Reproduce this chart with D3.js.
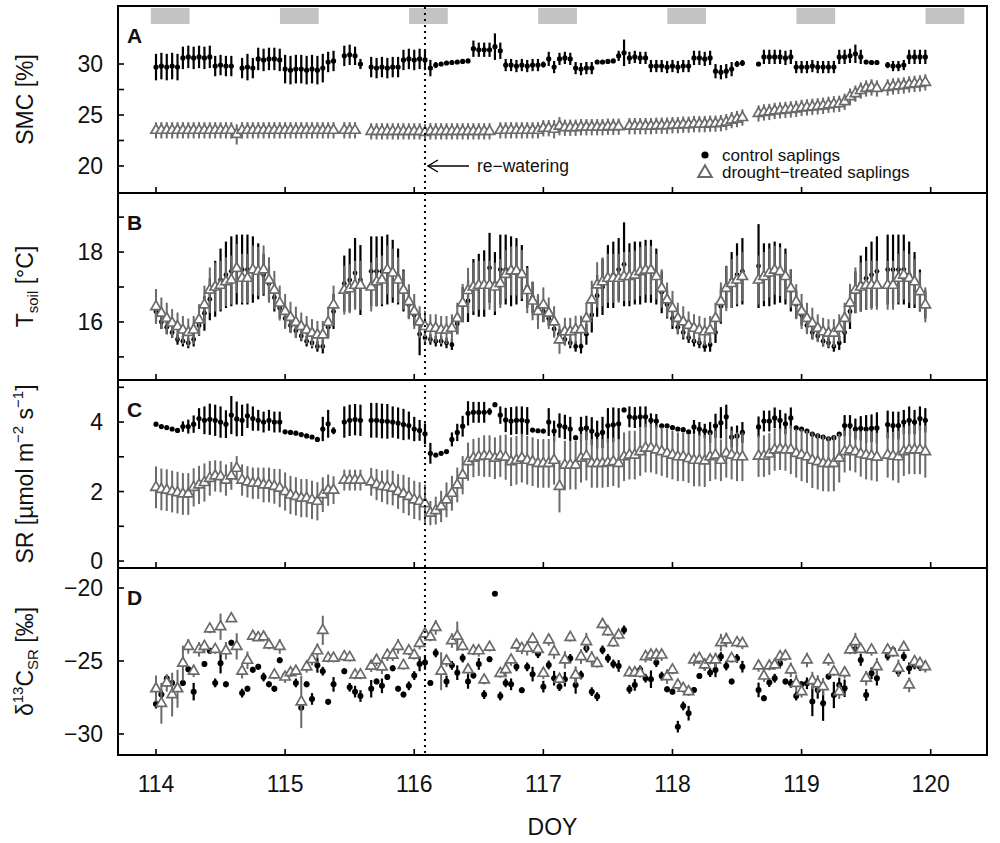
<!DOCTYPE html>
<html><head><meta charset="utf-8">
<script src="https://cdn.jsdelivr.net/npm/d3@7"></script>
<style>
body{margin:0;background:#fff}
text{font-family:"Liberation Sans",Arial,Helvetica,sans-serif;fill:#111}
</style></head>
<body><svg id="chart" width="1000" height="843"></svg>
<script>
// ---------------- DATA (hourly means, DOY 114.00 ... 119.96) ----------------
const startDOY = 114;
const hoursPerDay = 24;
const dayTicks = [114,115,116,117,118,119,120];
const nightDays = [114,115,116,117,118,119,120];
const nightSpan = [-0.04, 0.26];          // night period relative to midnight (days)
const rewaterDOY = 116.083;

// Panel A: soil moisture content SMC [%]
const smcCtrl = [29.7,29.8,29.7,29.8,29.7,30.6,30.7,30.6,30.7,30.6,30.7,29.8,29.9,29.8,29.8,null,29.6,29.7,29.6,30.5,30.4,30.5,30.5,30.4,
 29.5,29.4,29.5,29.5,29.4,29.5,29.4,29.6,30.2,30.3,null,30.8,30.9,30.8,30.0,null,29.7,29.6,29.7,29.6,29.7,29.7,30.4,30.5,
 30.4,30.5,30.4,29.6,29.9,30.0,30.1,30.15,30.2,30.25,30.3,31.5,31.4,31.4,31.4,31.7,31.3,29.9,29.9,29.8,29.9,29.8,29.9,29.9,
 29.95,30.5,29.7,30.5,30.6,30.5,29.6,29.5,29.6,29.6,30.2,30.2,30.25,30.3,30.8,31.1,30.6,30.7,30.6,30.6,29.8,29.8,29.8,29.7,
 29.8,29.7,29.8,29.8,30.6,30.6,30.5,30.6,29.3,29.2,29.3,29.5,30.0,30.1,null,null,30.0,30.7,30.7,30.7,30.7,30.6,30.7,29.7,
 29.7,29.7,29.8,29.7,29.7,29.7,29.7,30.7,30.7,30.8,31.0,30.7,30.2,30.15,30.15,null,29.9,29.8,29.8,29.9,30.7,30.7,30.7,30.7];
const smcCtrlErr = [1.3,1.3,1.3,1.3,1.3,1.1,1.1,1.1,1.1,1.1,1.1,1.0,1.0,1.0,1.0,null,1.0,1.3,1.0,1.1,1.1,1.1,1.1,1.1,
 1.4,1.4,1.4,1.4,1.4,1.4,1.4,1.4,1.0,1.0,null,1.0,1.0,0.9,0.5,null,1.0,1.0,1.0,1.0,1.0,1.0,1.0,1.0,
 1.0,1.0,1.0,0.8,0.3,0.2,0.2,0.2,0.2,0.2,0.2,0.8,0.7,0.7,0.7,1.3,0.8,0.6,0.6,0.6,0.6,0.6,0.6,0.6,
 0.3,0.7,0.6,0.6,0.6,0.6,0.6,0.6,0.6,0.6,0.2,0.2,0.2,0.2,0.5,1.3,0.6,0.6,0.6,0.6,0.6,0.6,0.6,0.6,
 0.6,0.6,0.6,0.6,0.7,0.7,0.7,0.7,0.7,0.7,0.7,0.7,0.3,0.3,null,null,0.2,0.7,0.7,0.7,0.7,0.7,0.7,0.6,
 0.6,0.6,0.6,0.6,0.6,0.6,0.6,0.7,0.7,0.7,0.9,0.7,0.2,0.2,0.2,null,0.3,0.5,0.5,0.5,0.7,0.7,0.7,0.7];
const smcDrt = [23.5,23.5,23.5,23.5,23.5,23.5,23.5,23.5,23.5,23.5,23.5,23.5,23.5,23.5,23.5,23.1,23.5,23.5,23.5,23.5,23.5,23.5,23.5,23.5,
 23.5,23.5,23.5,23.5,23.5,23.5,23.5,23.5,23.5,23.5,null,23.5,23.5,23.5,null,null,23.4,23.4,23.4,23.4,23.4,23.4,23.4,23.4,
 23.4,23.4,23.3,23.4,23.4,23.4,23.4,23.4,23.4,23.4,23.4,23.4,23.4,23.4,23.4,null,23.5,23.5,23.5,23.5,23.5,23.5,23.5,23.5,
 23.7,23.7,23.6,23.9,23.75,23.75,23.75,23.8,23.8,23.8,23.8,23.8,23.85,23.85,23.85,null,23.9,23.9,23.9,23.9,23.9,23.95,23.95,23.95,
 24.0,24.0,24.05,24.05,24.1,24.1,24.1,24.15,24.15,24.2,24.3,24.5,24.6,24.75,null,null,25.15,25.25,25.3,25.4,25.45,25.5,25.55,25.6,
 25.7,25.75,25.8,25.85,25.9,26.0,26.05,26.1,26.3,26.8,27.1,27.4,27.6,27.7,27.6,null,27.7,27.8,27.85,27.9,28.0,28.05,28.1,28.2];
const smcDrtErr = [0.8,0.8,0.8,0.8,0.8,0.8,0.8,0.8,0.8,0.8,0.8,0.8,0.8,0.8,0.8,1.0,0.8,0.8,0.8,0.8,0.8,0.8,0.8,0.8,
 0.8,0.8,0.8,0.8,0.8,0.8,0.8,0.8,0.8,0.8,null,0.8,0.8,0.8,null,null,0.8,0.8,0.8,0.8,0.8,0.8,0.8,0.8,
 0.8,0.8,0.8,0.8,0.8,0.8,0.8,0.8,0.8,0.8,0.8,0.8,0.8,0.8,0.8,null,0.8,0.8,0.8,0.8,0.8,0.8,0.8,0.8,
 0.8,0.8,0.9,0.9,0.8,0.8,0.8,0.8,0.8,0.8,0.8,0.8,0.8,0.8,0.8,null,0.8,0.8,0.8,0.8,0.8,0.8,0.8,0.8,
 0.8,0.8,0.8,0.8,0.8,0.8,0.8,0.8,0.8,0.8,0.8,0.8,0.8,0.8,null,null,0.8,0.8,0.8,0.8,0.8,0.8,0.8,0.8,
 0.8,0.8,0.8,0.8,0.8,0.8,0.8,0.8,0.8,0.8,0.8,0.8,0.8,0.8,0.8,null,0.8,0.8,0.8,0.8,0.8,0.8,0.8,0.8];

// Panel B: soil temperature Tsoil [°C]
const tsCtrl = [16.3,16.0,15.85,15.7,15.5,15.45,15.4,15.5,15.9,16.25,16.65,16.95,17.2,17.35,17.45,17.5,17.5,17.5,17.5,17.45,17.35,17.1,16.7,16.4,
 16.1,15.9,15.75,15.6,15.45,15.4,15.3,15.3,15.85,16.3,null,17.1,17.2,17.4,17.2,null,17.45,17.45,17.45,17.5,17.45,17.3,16.9,16.5,
 16.2,15.65,15.55,15.5,15.45,15.45,15.4,15.35,15.95,16.5,16.6,17.0,17.05,17.1,17.55,17.1,17.5,17.5,17.45,17.45,17.4,17.0,16.7,16.4,
 16.3,16.1,15.8,15.65,15.5,15.4,15.3,15.3,15.65,16.2,16.75,17.0,17.3,17.35,17.5,17.65,17.35,17.4,17.4,17.45,17.45,17.3,16.85,16.5,
 16.1,15.85,15.7,15.55,15.45,15.4,15.3,15.35,15.7,16.45,17.0,17.2,17.35,17.45,null,null,17.6,17.35,17.35,17.4,17.4,17.3,16.9,16.5,
 16.2,15.9,15.7,15.6,15.45,15.4,15.3,15.4,15.7,16.3,16.85,17.1,17.25,17.35,17.45,null,17.5,17.5,17.5,17.5,17.35,17.2,16.9,16.5];
const tsCtrlErr = [0.3,0.2,0.2,0.15,0.15,0.15,0.15,0.2,0.3,0.5,0.6,0.8,0.9,0.95,1.0,1.0,1.0,1.0,0.95,0.8,0.6,0.5,0.4,0.3,
 0.25,0.2,0.2,0.15,0.15,0.15,0.15,0.2,0.3,0.5,null,0.8,0.9,1.0,1.0,null,1.0,1.0,1.0,1.0,0.9,0.8,0.6,0.4,
 0.3,0.6,0.2,0.15,0.15,0.15,0.15,0.15,0.3,0.5,0.6,0.8,0.9,0.95,1.0,0.9,1.0,1.0,1.0,0.95,0.8,0.6,0.45,0.35,
 0.3,0.2,0.2,0.15,0.15,0.15,0.15,0.2,0.3,0.5,0.6,0.8,0.9,0.95,0.9,1.2,0.9,0.9,0.9,0.9,0.9,0.8,0.6,0.4,
 0.3,0.2,0.2,0.15,0.15,0.15,0.15,0.2,0.3,0.5,0.6,0.8,0.9,0.95,null,null,1.2,0.9,0.9,0.9,0.85,0.8,0.6,0.4,
 0.3,0.2,0.2,0.15,0.15,0.15,0.15,0.2,0.3,0.5,0.6,0.8,0.9,0.95,1.0,null,1.0,1.0,1.0,1.0,0.95,0.8,0.6,0.4];
const tsDrt = [16.44,16.25,16.1,15.97,15.87,15.77,15.7,15.77,16.06,16.49,16.91,17.0,17.05,17.15,17.2,17.53,17.25,17.25,17.49,17.45,17.49,17.2,16.91,16.54,
 16.3,16.13,15.99,15.87,15.77,15.68,15.63,15.63,15.99,16.49,null,16.91,16.95,17.05,17.05,null,17.0,17.15,17.2,17.49,17.4,17.2,16.91,16.58,
 16.3,16.0,15.87,15.82,15.82,15.77,15.77,15.82,16.1,16.54,16.9,17.0,17.05,17.05,17.05,17.0,17.1,17.36,17.46,17.46,17.36,16.9,16.6,16.3,
 16.49,16.25,16.0,15.49,15.72,15.72,15.78,15.78,16.1,16.63,17.06,17.15,17.25,17.25,17.25,17.3,17.3,17.34,17.44,17.48,17.48,17.3,16.96,16.63,
 16.39,16.1,16.0,15.9,15.82,15.77,15.72,15.77,16.1,16.58,16.96,17.1,17.2,17.3,null,null,17.2,17.3,17.4,17.48,17.44,17.3,16.96,16.58,
 16.3,16.1,15.96,15.82,15.72,15.68,15.68,15.82,16.1,16.54,16.91,17.0,17.05,17.05,17.05,null,17.05,17.05,17.25,17.34,17.25,17.15,16.87,16.49];
const tsDrtErr = [0.5,0.45,0.45,0.4,0.4,0.4,0.4,0.4,0.45,0.55,0.65,0.7,0.7,0.7,0.7,0.7,0.7,0.7,0.7,0.7,0.7,0.65,0.55,0.5,
 0.5,0.45,0.45,0.4,0.4,0.4,0.4,0.4,0.45,0.55,null,0.7,0.7,0.7,0.7,null,0.7,0.7,0.7,0.7,0.7,0.65,0.55,0.5,
 0.5,0.45,0.45,0.4,0.4,0.4,0.4,0.4,0.45,0.55,0.65,0.7,0.7,0.7,0.7,0.7,0.7,0.7,0.7,0.7,0.7,0.65,0.55,0.5,
 0.5,0.45,0.45,0.4,0.4,0.4,0.4,0.4,0.45,0.55,0.65,0.7,0.7,0.7,0.7,0.7,0.7,0.7,0.7,0.7,0.7,0.65,0.55,0.5,
 0.5,0.45,0.45,0.4,0.4,0.4,0.4,0.4,0.45,0.55,0.65,0.7,0.7,0.7,null,null,0.7,0.7,0.7,0.7,0.7,0.65,0.55,0.5,
 0.5,0.45,0.45,0.4,0.4,0.4,0.4,0.4,0.45,0.55,0.65,0.7,0.7,0.7,0.7,null,0.7,0.7,0.7,0.7,0.7,0.65,0.55,0.5];

// Panel C: soil respiration SR [µmol m-2 s-1]
const srCtrl = [3.94,3.87,3.84,3.8,3.76,3.87,3.87,3.94,4.1,4.05,4.08,4.05,4.0,3.94,4.2,4.09,4.05,4.18,4.1,4.05,4.0,4.05,4.0,4.0,
 3.72,3.7,3.68,3.64,3.6,3.57,3.5,3.8,3.95,3.75,null,4.0,4.05,4.07,4.05,null,4.05,4.05,4.03,4.02,4.0,3.97,3.93,3.9,
 3.8,3.76,3.66,3.1,3.05,3.1,3.15,3.5,3.7,3.88,4.25,4.28,4.28,4.28,4.3,4.5,4.2,4.06,4.03,4.05,4.05,4.03,3.77,3.75,
 3.74,4.0,3.74,3.9,3.86,3.8,3.55,3.8,3.83,3.74,3.64,3.7,3.9,3.92,3.95,4.35,4.15,4.13,4.15,4.15,4.05,4.03,3.89,3.89,
 3.84,3.8,3.78,3.72,3.86,3.8,3.75,3.7,3.89,3.98,4.15,3.57,3.6,3.7,null,null,3.86,4.03,4.03,4.12,4.05,3.95,4.12,3.83,
 3.8,3.74,3.65,3.6,3.57,3.52,3.55,3.65,3.9,3.9,3.8,3.82,3.8,3.82,3.83,null,3.93,3.9,3.9,4.0,4.05,4.0,4.1,4.05];
const srCtrlErr = [0.04,0.04,0.04,0.04,0.04,0.15,0.2,0.25,0.3,0.4,0.45,0.45,0.45,0.4,0.55,0.5,0.45,0.35,0.35,0.3,0.3,0.3,0.3,0.3,
 0.04,0.04,0.04,0.04,0.04,0.04,0.06,0.35,0.4,0.1,null,0.45,0.45,0.45,0.45,null,0.5,0.5,0.5,0.5,0.45,0.45,0.45,0.4,
 0.35,0.3,0.3,0.3,0.05,0.05,0.05,0.2,0.25,0.3,0.35,0.3,0.3,0.3,0.1,0.05,0.25,0.35,0.4,0.4,0.4,0.4,0.05,0.05,
 0.05,0.4,0.3,0.35,0.35,0.35,0.05,0.35,0.35,0.4,0.4,0.45,0.5,0.5,0.45,0.05,0.3,0.3,0.3,0.3,0.2,0.2,0.05,0.05,
 0.05,0.05,0.05,0.05,0.2,0.2,0.2,0.3,0.35,0.45,0.35,0.3,0.3,0.3,null,null,0.3,0.3,0.3,0.3,0.3,0.3,0.3,0.05,
 0.05,0.05,0.05,0.05,0.05,0.05,0.05,0.05,0.3,0.3,0.3,0.35,0.4,0.4,0.45,null,0.4,0.4,0.4,0.35,0.4,0.35,0.35,0.35];
const srDrt = [2.12,2.06,2.04,2.0,1.97,1.93,1.93,2.12,2.19,2.26,2.38,2.45,2.43,2.33,2.45,2.67,2.33,2.28,2.24,2.24,2.19,2.19,2.15,2.1,
 2.0,1.9,1.86,1.81,1.81,1.76,1.72,1.91,2.04,2.04,null,2.33,2.33,2.33,2.33,null,2.28,2.2,2.15,2.13,2.1,2.0,1.93,1.86,
 1.76,1.72,1.65,1.38,1.45,1.57,1.76,1.95,2.19,2.47,2.86,2.96,3.0,3.02,3.02,2.96,3.02,2.99,2.86,2.9,2.96,2.9,2.86,2.81,
 2.81,2.81,2.9,2.15,2.76,2.76,2.76,2.96,3.02,2.81,2.81,2.81,2.83,2.86,2.81,3.0,3.05,3.05,3.15,3.25,3.25,3.2,3.15,3.1,
 3.05,3.0,3.0,2.95,2.9,2.9,2.88,3.0,3.05,2.9,3.1,3.05,3.0,3.0,null,null,3.02,3.02,3.08,3.2,3.22,3.2,3.2,3.1,
 3.05,3.0,2.9,2.86,2.81,2.8,2.81,2.96,3.15,3.2,3.15,3.08,3.05,3.02,2.99,null,3.05,3.02,3.0,3.15,3.2,3.2,3.2,3.15];
const srDrtErr = [0.6,0.6,0.6,0.6,0.6,0.6,0.6,0.55,0.55,0.55,0.5,0.45,0.45,0.45,0.4,0.35,0.45,0.45,0.45,0.45,0.5,0.5,0.5,0.55,
 0.55,0.55,0.55,0.55,0.55,0.55,0.55,0.5,0.45,0.4,null,0.3,0.3,0.3,0.3,null,0.4,0.45,0.45,0.5,0.5,0.5,0.55,0.55,
 0.55,0.55,0.55,0.35,0.4,0.45,0.5,0.5,0.5,0.55,0.55,0.55,0.55,0.6,0.6,0.6,0.6,0.65,0.7,0.7,0.7,0.7,0.7,0.7,
 0.7,0.7,0.7,0.75,0.7,0.7,0.7,0.7,0.7,0.7,0.7,0.7,0.7,0.7,0.7,0.7,0.7,0.7,0.7,0.7,0.7,0.7,0.7,0.7,
 0.7,0.7,0.7,0.7,0.75,0.75,0.75,0.7,0.7,0.6,0.7,0.7,0.7,0.7,null,null,0.6,0.6,0.6,0.6,0.6,0.6,0.7,0.7,
 0.75,0.75,0.8,0.8,0.8,0.8,0.8,0.7,0.6,0.6,0.6,0.65,0.7,0.7,0.7,null,0.65,0.7,0.75,0.7,0.7,0.7,0.7,0.75];

// Panel D: δ13C of soil respiration [‰]
const d13Ctrl = [-27.95,-27.3,-26.2,-26.5,-26.8,-26.5,-25.57,-27.1,null,-25.2,-24.3,-26.5,-25.15,-26.6,-23.75,null,-27.2,-26.9,-25.6,-25.4,-26.1,-26.6,-26.9,-24.95,
 -26.0,null,-26.5,-28.2,-26.6,-27.6,-25.3,-25.7,-27.8,-26.6,null,-25.7,-26.8,-27.1,-27.4,null,-26.9,-26.4,-26.7,-26.1,-25.5,-26.9,-27.3,-26.7,
 -26.0,-25.2,-25.1,-26.5,-24.45,null,-26.4,-25.3,-25.8,-24.8,-26.4,-26.0,-25.2,-27.3,-24.88,-20.4,-27.4,-26.5,-26.6,-25.4,-27.0,-25.4,-25.9,-24.5,
 -26.76,-25.27,-26.18,-26.76,-26.25,-24.82,-26.64,-25.96,-24.13,-27.1,-27.44,-24.24,-24.82,-25.2,-25.34,-22.87,-26.94,-26.64,-25.6,-26.18,-26.25,-25.11,-26.03,-26.94,
 -27.1,-29.5,-28.08,-28.58,-26.98,-26.03,-25.34,-25.8,-25.61,-24.7,-25.34,-26.41,-24.82,-25.39,null,null,-26.98,-27.55,-26.48,-26.18,-25.16,-26.41,-26.53,-27.4,
 -26.6,-26.53,-27.78,-26.98,-27.9,-26.07,-27.33,-26.64,-26.87,-24.13,-24.2,-24.93,-27.33,-25.84,-26.18,null,-24.66,-24.24,-25.73,-24.7,-25.5,-25.27,-25.39,-25.39];
const d13CtrlErr = [0.3,0.3,0.2,0.2,0.3,0.2,0.2,0.6,null,0.2,0.2,0.3,0.7,0.2,0.2,null,0.3,0.2,0.2,0.2,0.3,0.2,0.2,0.2,
 0.2,null,0.3,0.1,0.2,0.4,0.5,0.3,0.2,0.5,null,0.2,0.3,0.4,0.4,null,0.6,0.2,0.5,0.2,0.2,0.2,0.2,0.3,
 0.3,0.5,0.5,0.2,0.3,null,0.4,0.3,0.5,0.3,0.5,0.2,0.4,0.3,0.2,0.1,0.3,0.3,0.4,0.3,0.2,0.3,0.5,0.3,
 0.4,0.3,0.5,0.3,0.5,0.3,0.6,0.3,0.3,0.3,0.3,0.3,0.3,0.3,0.4,0.3,0.3,0.4,0.3,0.3,0.6,0.3,0.3,0.2,
 0.2,0.4,0.3,0.5,0.2,0.2,0.3,0.3,0.5,0.3,0.3,0.2,0.3,0.4,null,null,0.5,0.2,0.3,0.3,0.3,0.2,0.3,0.3,
 0.2,0.4,1.0,0.6,1.2,0.2,0.9,0.5,0.6,0.2,0.3,0.4,0.4,0.4,0.5,null,0.3,0.2,0.3,0.3,0.4,0.3,0.3,0.3];
const d13Drt = [-26.9,-27.9,-26.5,-27.3,-26.9,-25.15,-24.0,-25.7,-24.2,-24.0,-22.8,-24.2,-22.65,-24.3,-22.1,-24.0,-25.7,-24.95,-23.3,-23.4,-23.35,-23.9,-25.95,-24.0,
 -26.1,-25.8,-25.7,-27.8,-25.4,-24.9,-24.3,-22.9,-24.8,-24.8,null,-24.7,-24.75,-25.95,-25.95,null,-25.35,-24.95,-25.4,-24.6,-24.6,-24.0,-25.3,-24.3,
 -24.6,-23.8,-23.15,-23.35,-22.7,-25.7,-25.0,-23.6,-23.3,-24.0,-25.6,-24.3,-24.3,-26.3,-24.05,null,-25.85,-25.6,-24.93,-23.9,-24.13,-24.13,-23.5,-24.2,
 -25.84,-23.56,-24.36,-26.25,-24.93,-23.38,-25.96,-24.7,-23.67,-24.82,-25.16,-22.5,-22.99,-23.74,-23.22,null,-25.8,-25.8,-25.84,-24.7,-24.59,-24.59,-24.59,-26.07,
 -25.61,-26.64,-26.87,-27.1,-24.93,-24.82,-25.27,-24.93,-24.93,-23.74,-23.56,-24.82,-23.74,-23.79,null,null,-25.34,-26.03,-25.34,-25.27,-24.7,-24.66,-25.61,-26.53,
 -27.1,-24.93,-26.34,-26.57,-26.76,-24.93,-25.73,-27.1,-25.8,-24.24,-23.67,-24.2,-26.18,-24.24,-25.39,null,-24.24,-24.43,-25.5,-24.06,-26.64,-25.04,-25.16,-25.39];
const d13DrtErr = [0.9,1.4,0.6,1.5,1.3,1.2,0.5,0.4,0.5,0.4,0.3,0.3,0.9,0.6,0.2,0.9,0.5,0.6,0.2,0.2,0.2,0.3,0.3,0.5,
 0.4,0.3,0.3,1.8,0.4,0.4,0.5,1.0,0.3,0.3,null,0.3,0.3,0.3,0.3,null,0.4,0.4,0.5,0.4,0.4,0.5,0.3,0.3,
 0.3,0.4,0.3,0.3,0.5,1.3,0.4,0.5,1.0,0.3,0.3,0.3,0.4,0.3,0.3,null,0.3,0.5,0.4,0.3,0.4,0.5,0.3,0.3,
 0.4,0.4,0.5,0.3,0.6,0.3,0.6,0.5,0.6,0.5,0.3,0.3,0.3,0.3,0.3,null,0.3,0.3,0.3,0.4,0.4,0.4,0.4,0.5,
 0.3,0.3,0.3,0.3,0.4,0.4,0.4,0.3,0.5,0.6,0.5,0.3,0.3,0.4,null,null,0.4,0.4,0.3,0.3,0.4,0.3,0.5,0.6,
 0.4,0.5,0.6,0.6,0.6,0.4,0.3,0.5,0.4,0.3,0.6,0.3,0.5,0.4,0.6,null,0.4,0.3,0.6,0.3,0.5,0.4,0.4,0.4];

// ---------------- LAYOUT ----------------
const svg = d3.select("#chart");
svg.append("rect").attr("width",1000).attr("height",843).attr("fill","#fff");
const frameLeft = 118, frameRight = 987;
const x = d3.scaleLinear().domain([114,120]).range([156,930.7]);
const CTRL = "#000", DRT = "#6a6a6a";
const fmt = v => String(v).replace("-", "\u2212");

const panels = [
  {key:"A", top:6,   bottom:193, domain:[17.35,35.69], major:[20,25,30], minor:[22.5,27.5],
   ctrl:smcCtrl, ctrlErr:smcCtrlErr, drt:smcDrt, drtErr:smcDrtErr, dotR:2.6},
  {key:"B", top:193, bottom:380, domain:[14.34,19.69], major:[16,18], minor:[15,17,19],
   ctrl:tsCtrl, ctrlErr:tsCtrlErr, drt:tsDrt, drtErr:tsDrtErr, dotR:2.4},
  {key:"C", top:380, bottom:568, domain:[-0.2,5.21], major:[0,2,4], minor:[1,3,5],
   ctrl:srCtrl, ctrlErr:srCtrlErr, drt:srDrt, drtErr:srDrtErr, dotR:2.6},
  {key:"D", top:568, bottom:755, domain:[-31.44,-18.63], major:[-30,-25,-20], minor:[],
   ctrl:d13Ctrl, ctrlErr:d13CtrlErr, drt:d13Drt, drtErr:d13DrtErr, dotR:3}
];

const tri = d3.symbol(d3.symbolTriangle, 46);
const tOf = i => startDOY + i / hoursPerDay;

panels.forEach(p => {
  const y = d3.scaleLinear().domain(p.domain).range([p.bottom, p.top]);
  p.y = y;
  const g = svg.append("g");

  if (p.key === "A") {
    g.selectAll("rect.night").data(nightDays).enter().append("rect")
      .attr("x", d => x(d + nightSpan[0])).attr("y", p.top + 2)
      .attr("width", d => x(d + nightSpan[1]) - x(d + nightSpan[0])).attr("height", 16)
      .attr("fill", "#c3c3c3");
  }

  const cIdx = d3.range(p.ctrl.length).filter(i => p.ctrl[i] != null);
  const dIdx = d3.range(p.drt.length).filter(i => p.drt[i] != null);

  // control saplings
  g.selectAll("line.ce").data(cIdx).enter().append("line")
    .attr("x1", i => x(tOf(i))).attr("x2", i => x(tOf(i)))
    .attr("y1", i => y(p.ctrl[i] - p.ctrlErr[i])).attr("y2", i => y(p.ctrl[i] + p.ctrlErr[i]))
    .attr("stroke", CTRL).attr("stroke-width", 2.2);
  g.selectAll("circle.c").data(cIdx).enter().append("circle")
    .attr("cx", i => x(tOf(i))).attr("cy", i => y(p.ctrl[i])).attr("r", p.dotR)
    .attr("fill", CTRL);

  // drought-treated saplings
  g.selectAll("line.de").data(dIdx).enter().append("line")
    .attr("x1", i => x(tOf(i))).attr("x2", i => x(tOf(i)))
    .attr("y1", i => y(p.drt[i] - p.drtErr[i])).attr("y2", i => y(p.drt[i] + p.drtErr[i]))
    .attr("stroke", DRT).attr("stroke-width", 2);
  g.selectAll("path.d").data(dIdx).enter().append("path")
    .attr("d", tri).attr("transform", i => `translate(${x(tOf(i))},${y(p.drt[i])})`)
    .attr("fill", "#fff").attr("stroke", DRT).attr("stroke-width", 1.7);

  // frame
  g.append("rect").attr("x", frameLeft).attr("y", p.top)
    .attr("width", frameRight - frameLeft).attr("height", p.bottom - p.top)
    .attr("fill", "none").attr("stroke", "#000").attr("stroke-width", 2);

  // y ticks (inward)
  g.selectAll("line.yt").data(p.major.concat(p.minor)).enter().append("line")
    .attr("x1", frameLeft).attr("x2", frameLeft + 6)
    .attr("y1", d => y(d)).attr("y2", d => y(d))
    .attr("stroke", "#000").attr("stroke-width", 1.6);
  g.selectAll("text.yl").data(p.major).enter().append("text")
    .attr("x", 103).attr("y", d => y(d)).attr("dy", "0.36em")
    .attr("text-anchor", "end").attr("font-size", 23).text(fmt);

  // x ticks (inward, at bottom of every panel)
  g.selectAll("line.xt").data(dayTicks).enter().append("line")
    .attr("x1", d => x(d)).attr("x2", d => x(d))
    .attr("y1", p.bottom).attr("y2", p.bottom - 6)
    .attr("stroke", "#000").attr("stroke-width", 1.6);

  // panel letter
  g.append("text").attr("x", 127).attr("y", p.top + 37)
    .attr("font-size", 21).attr("font-weight", "bold").text(p.key);
});

// x tick labels + title
const last = panels[panels.length - 1];
svg.selectAll("text.xl").data(dayTicks).enter().append("text")
  .attr("x", d => x(d)).attr("y", last.bottom + 37)
  .attr("text-anchor", "middle").attr("font-size", 23).text(d => d);
svg.append("text").attr("x", (frameLeft + frameRight) / 2).attr("y", last.bottom + 80)
  .attr("text-anchor", "middle").attr("font-size", 23).text("DOY");

// y titles (rotated)
function yTitle(p, build) {
  const t = svg.append("text")
    .attr("transform", `translate(33,${(p.top + p.bottom) / 2}) rotate(-90)`)
    .attr("text-anchor", "middle").attr("font-size", 23);
  build(t);
}
yTitle(panels[0], t => t.text("SMC [%]"));
yTitle(panels[1], t => {
  t.append("tspan").text("T");
  t.append("tspan").attr("font-size", 15).attr("dy", 5).text("soil");
  t.append("tspan").attr("dy", -5).text(" [°C]");
});
yTitle(panels[2], t => {
  t.append("tspan").text("SR [µmol m");
  t.append("tspan").attr("font-size", 15).attr("dy", -10).text("\u22122");
  t.append("tspan").attr("dy", 10).text(" s");
  t.append("tspan").attr("font-size", 15).attr("dy", -10).text("\u22121");
  t.append("tspan").attr("dy", 10).text("]");
});
yTitle(panels[3], t => {
  t.append("tspan").text("δ");
  t.append("tspan").attr("font-size", 15).attr("dy", -10).text("13");
  t.append("tspan").attr("dy", 10).text("C");
  t.append("tspan").attr("font-size", 15).attr("dy", 5).text("SR");
  t.append("tspan").attr("dy", -5).text(" [‰]");
});

// re-watering line
const xr = x(rewaterDOY);
svg.append("line").attr("x1", xr).attr("x2", xr).attr("y1", panels[0].top + 1).attr("y2", last.bottom - 1)
  .attr("stroke", "#000").attr("stroke-width", 2).attr("stroke-dasharray", "2,4");

// annotation & legend in panel A
const yA = panels[0].y;
const ya = yA(20);
svg.append("line").attr("x1", xr + 3).attr("x2", xr + 44).attr("y1", ya).attr("y2", ya)
  .attr("stroke", "#000").attr("stroke-width", 1.4);
svg.append("path").attr("d", `M${xr + 13},${ya - 6} L${xr + 3},${ya} L${xr + 13},${ya + 6}`)
  .attr("fill", "none").attr("stroke", "#000").attr("stroke-width", 1.4);
svg.append("text").attr("x", xr + 52).attr("y", ya + 6).attr("font-size", 17.5).text("re\u2212watering");

const legX = 705;
svg.append("circle").attr("cx", legX).attr("cy", 155).attr("r", 3.6).attr("fill", CTRL);
svg.append("text").attr("x", legX + 17).attr("y", 160.5).attr("font-size", 17).text("control saplings");
svg.append("path").attr("d", d3.symbol(d3.symbolTriangle, 80)).attr("transform", `translate(${legX},173)`)
  .attr("fill", "#fff").attr("stroke", DRT).attr("stroke-width", 2);
svg.append("text").attr("x", legX + 17).attr("y", 177.5).attr("font-size", 17).text("drought\u2212treated saplings");
</script>
</body></html>
